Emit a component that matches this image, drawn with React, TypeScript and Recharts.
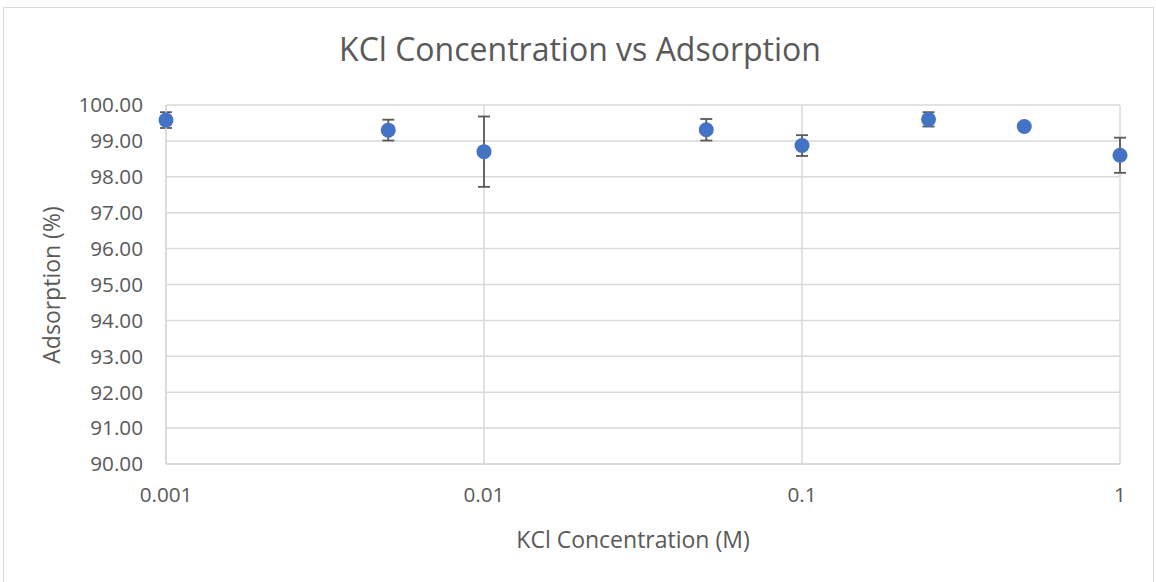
import React from "react";
import { ScatterChart, Scatter, XAxis, YAxis, CartesianGrid, ErrorBar } from "recharts";

const concentrations = [0.001, 0.005, 0.01, 0.05, 0.1, 0.25, 0.5, 1];
const adsorption = [99.58, 99.3, 98.7, 99.31, 98.87, 99.6, 99.4, 98.6];
const errors = [0.22, 0.29, 0.98, 0.3, 0.29, 0.2, 0.05, 0.49];
const xTicks = [0.001, 0.01, 0.1, 1];
const yTicks = [90, 91, 92, 93, 94, 95, 96, 97, 98, 99, 100];

const data = concentrations.map((c, i) => ({ x: c, y: adsorption[i], err: errors[i] }));

const FONT = "'Open Sans', 'Noto Sans', sans-serif";
const GRAY = "#595959";
const GRID = "#d9d9d9";

const Dot = (props: any) => {
  const { cx, cy } = props;
  return <circle cx={cx} cy={cy} r={7.5} fill="#4472C4" />;
};

export default function App() {
  return (
    <div style={{ position: "absolute", left: 0, top: 0, width: 1156, height: 582, background: "#fff", fontFamily: FONT }}>
      <div style={{ position: "absolute", left: 3, top: 7, width: 1151, height: 580, border: `1px solid ${GRID}`, boxSizing: "border-box" }} />
      <div style={{ position: "absolute", left: 0, top: 0 }}>
        <ScatterChart width={1156} height={582} margin={{ top: 105, right: 36, bottom: 88, left: 96 }}>
          <CartesianGrid stroke={GRID} strokeWidth={1.5} />
          <XAxis
            type="number"
            dataKey="x"
            scale="log"
            domain={[0.001, 1]}
            ticks={xTicks}
            tickFormatter={(v: number) => String(v)}
            tickLine={false}
            tickSize={0}
            tickMargin={23}
            height={30}
            axisLine={{ stroke: GRID, strokeWidth: 1.5 }}
            tick={{ fill: GRAY, fontSize: 20.7, fontFamily: FONT }}
          />
          <YAxis
            type="number"
            dataKey="y"
            domain={[90, 100]}
            ticks={yTicks}
            interval={0}
            tickFormatter={(v: number) => v.toFixed(2)}
            tickLine={false}
            tickSize={0}
            tickMargin={23}
            width={70}
            axisLine={{ stroke: GRID, strokeWidth: 1.5 }}
            tick={{ fill: GRAY, fontSize: 20.7, fontFamily: FONT }}
          />
          <Scatter data={data} fill="#4472C4" shape={<Dot />} isAnimationActive={false}>
            <ErrorBar dataKey="err" direction="y" width={6} stroke={GRAY} strokeWidth={1.8} />
          </Scatter>
        </ScatterChart>
      </div>
      <svg width={1156} height={582} style={{ position: "absolute", left: 0, top: 0, pointerEvents: "none" }}>
        <text x={580} y={61} textAnchor="middle" fontSize={32} fill={GRAY} fontFamily={FONT}>
          KCl Concentration vs Adsorption
        </text>
        <text x={633} y={548} textAnchor="middle" fontSize={23} fill={GRAY} fontFamily={FONT}>
          KCl Concentration (M)
        </text>
        <text x={60} y={285} textAnchor="middle" fontSize={23} fill={GRAY} fontFamily={FONT} transform="rotate(-90 60 285)">
          Adsorption (%)
        </text>
      </svg>
    </div>
  );
}
